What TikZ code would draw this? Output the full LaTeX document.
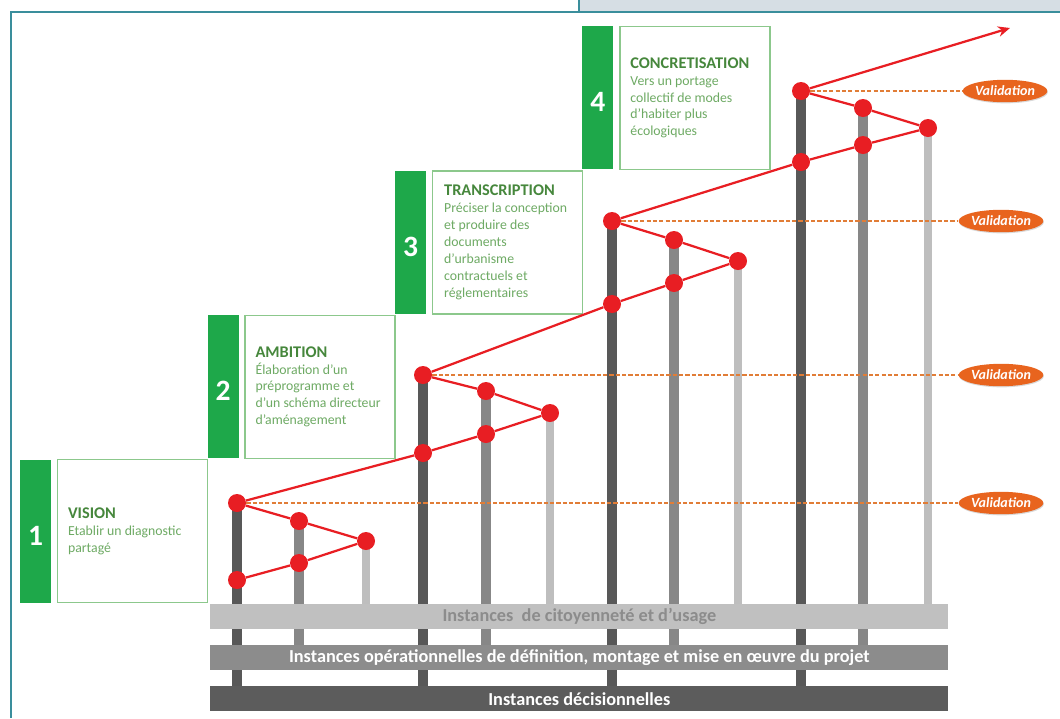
\documentclass[tikz,border=0pt]{standalone}
\usepackage{fontspec}
\setmainfont{Carlito}
\usetikzlibrary{positioning,shapes.geometric,arrows.meta,backgrounds,shadows}
\definecolor{framecol}{RGB}{58,142,156}
\definecolor{tabcol}{RGB}{214,222,228}
\definecolor{stepgreen}{RGB}{30,168,74}
\definecolor{boxgreen}{RGB}{140,200,140}
\definecolor{titlegreen}{RGB}{70,135,60}
\definecolor{bodygreen}{RGB}{110,170,100}
\definecolor{dotred}{RGB}{232,30,35}
\definecolor{validorange}{RGB}{232,100,30}
\definecolor{dashorange}{RGB}{225,125,55}
\definecolor{bardark}{RGB}{88,88,88}
\definecolor{barmid}{RGB}{135,135,135}
\definecolor{barlight}{RGB}{190,190,190}
\definecolor{bandlight}{RGB}{192,192,192}
\definecolor{bandmid}{RGB}{140,140,140}
\definecolor{banddark}{RGB}{92,92,92}
\definecolor{bandtext}{RGB}{140,140,140}
\tikzset{
    frameline/.style={draw=framecol, line width=1.4pt},
    stepbox/.style={draw=boxgreen, line width=1pt, fill=white, minimum width=3.75cm, minimum height=3.575cm, inner sep=0pt},
    numbar/.style={fill=stepgreen, minimum width=0.775cm, minimum height=3.575cm, inner sep=0pt, text=white, text height=20pt, text depth=0pt, font=\fontsize{21}{21}\selectfont\bfseries},
    steptext/.style={align=left, inner sep=0pt, text=bodygreen, font=\fontsize{9.8}{12}\selectfont},
    dot/.style={circle, fill=dotred, minimum size=0.45cm, inner sep=0pt},
    redline/.style={draw=dotred, line width=1.6pt},
    valline/.style={draw=dashorange, line width=1.2pt, dash pattern=on 3pt off 1.5pt},
    valid/.style={ellipse, fill=validorange, minimum width=1.95cm, minimum height=0.56cm, inner sep=0pt, text=white, font=\fontsize{10}{10}\selectfont\bfseries\itshape, drop shadow={shadow xshift=0.4pt, shadow yshift=-0.8pt, opacity=0.3}},
    band/.style={minimum width=18.45cm, minimum height=0.625cm, inner sep=0pt, font=\fontsize{13}{13}\selectfont\bfseries},
    darkbar/.style={draw=bardark, line width=0.25cm},
    midbar/.style={draw=barmid, line width=0.24cm},
    lightbar/.style={draw=barlight, line width=0.22cm}
}
\newcommand{\steptitle}[1]{\textcolor{titlegreen}{\fontsize{11.6}{12}\selectfont\bfseries #1}}
\begin{document}
\begin{tikzpicture}[x=0.025cm, y=-0.025cm]
    \useasboundingbox (0,0) rectangle (1060,718);
    \fill[tabcol] (579,0) rectangle (1060,11);
    \draw[frameline] (579,0) -- (579,12);
    \draw[frameline] (11,718) -- (11,12) -- (1060,12);

    \node[stepbox, anchor=north west] (b1) at (57,459) {};
    \node[stepbox, above right=0cm and 0.9cm of b1.north east] (b2) {};
    \node[stepbox, above right=0cm and 0.9cm of b2.north east] (b3) {};
    \node[stepbox, above right=0cm and 0.9cm of b3.north east] (b4) {};
    \node[numbar, left=0.14cm of b1] (n1) {1};
    \node[numbar, left=0.14cm of b2] (n2) {2};
    \node[numbar, left=0.14cm of b3] (n3) {3};
    \node[numbar, left=0.14cm of b4] (n4) {4};
    \node[steptext, right=0.27cm of b1.west] (t1) {\steptitle{VISION}\\Etablir un diagnostic\\partagé};
    \node[steptext, right=0.27cm of b2.west] (t2) {\steptitle{AMBITION}\\Élaboration d'un\\préprogramme et\\d'un schéma directeur\\d'aménagement};
    \node[steptext, right=0.3cm of b3.west] (t3) {\steptitle{TRANSCRIPTION}\\Préciser la conception\\et produire des\\documents\\d'urbanisme\\contractuels et\\réglementaires};
    \node[steptext, right=0.27cm of b4.west] (t4) {\steptitle{CONCRETISATION}\\Vers un portage\\collectif de modes\\d'habiter plus\\écologiques};

    \node[band, fill=bandlight, text=bandtext, anchor=north west] (band1) at (210,604) {Instances\ \ de citoyenneté et d'usage};
    \node[band, fill=bandmid, text=white, below=0.375cm of band1] (band2) {Instances opérationnelles de définition, montage et mise en œuvre du projet};
    \node[band, fill=banddark, text=white, below=0.4cm of band2] (band3) {Instances décisionnelles};

    \node[dot] (d1a) at (237,503) {};
    \node[dot] (d1b) at (299,521) {};
    \node[dot] (d1c) at (366,541) {};
    \node[dot] (d1d) at (299,563) {};
    \node[dot] (d1e) at (237,580) {};
    \node[dot] (d2a) at (423,375) {};
    \node[dot] (d2b) at (486,391) {};
    \node[dot] (d2c) at (550,413) {};
    \node[dot] (d2d) at (486,434) {};
    \node[dot] (d2e) at (423,453) {};
    \node[dot] (d3a) at (612,221) {};
    \node[dot] (d3b) at (674,240) {};
    \node[dot] (d3c) at (738,261) {};
    \node[dot] (d3d) at (674,283) {};
    \node[dot] (d3e) at (612,304) {};
    \node[dot] (d4a) at (801,91) {};
    \node[dot] (d4b) at (863,108) {};
    \node[dot] (d4c) at (928,128) {};
    \node[dot] (d4d) at (863,145) {};
    \node[dot] (d4e) at (801,162) {};
    \coordinate (arrowend) at (1010,28);

    \node[valid] (v1) at (1001,503) {Validation};
    \node[valid] (v2) at (1001,375) {Validation};
    \node[valid] (v3) at (1001,221) {Validation};
    \node[valid] (v4) at (1005,91) {Validation};

    \begin{scope}[on background layer]
        \draw[darkbar] (d1a.center) -- (d1a.center |- band3.center);
        \draw[midbar] (d1b.center) -- (d1b.center |- band2.center);
        \draw[lightbar] (d1c.center) -- (d1c.center |- band1.center);
        \draw[darkbar] (d2a.center) -- (d2a.center |- band3.center);
        \draw[midbar] (d2b.center) -- (d2b.center |- band2.center);
        \draw[lightbar] (d2c.center) -- (d2c.center |- band1.center);
        \draw[darkbar] (d3a.center) -- (d3a.center |- band3.center);
        \draw[midbar] (d3b.center) -- (d3b.center |- band2.center);
        \draw[lightbar] (d3c.center) -- (d3c.center |- band1.center);
        \draw[darkbar] (d4a.center) -- (d4a.center |- band3.center);
        \draw[midbar] (d4b.center) -- (d4b.center |- band2.center);
        \draw[lightbar] (d4c.center) -- (d4c.center |- band1.center);
    \end{scope}

    \draw[valline] (d1a) -- (v1);
    \draw[valline] (d2a) -- (v2);
    \draw[valline] (d3a) -- (v3);
    \draw[valline] (d4a) -- (v4);

    \draw[redline] (d1a) -- (d1b) -- (d1c) -- (d1d) -- (d1e);
    \draw[redline] (d2a) -- (d2b) -- (d2c) -- (d2d) -- (d2e);
    \draw[redline] (d3a) -- (d3b) -- (d3c) -- (d3d) -- (d3e);
    \draw[redline] (d4a) -- (d4b) -- (d4c) -- (d4d) -- (d4e);
    \draw[redline] (d1a) -- (d2e);
    \draw[redline] (d2a) -- (d3e);
    \draw[redline] (d3a) -- (d4e);
    \draw[redline, -{Stealth[length=3mm, width=2.6mm]}] (d4a) -- (arrowend);
\end{tikzpicture}
\end{document}
